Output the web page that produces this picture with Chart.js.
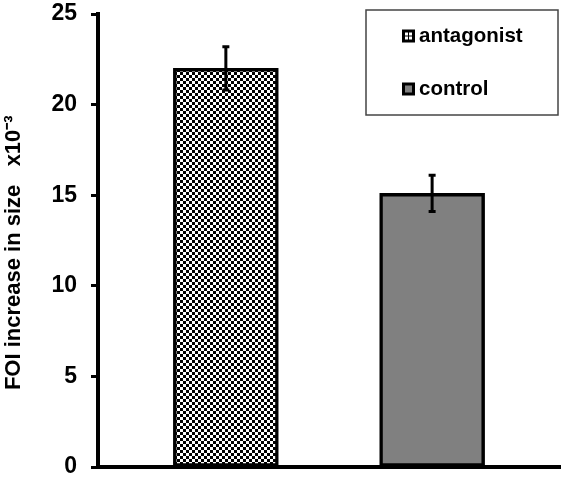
<!DOCTYPE html>
<html>
<head>
<meta charset="utf-8">
<script src="https://cdn.jsdelivr.net/npm/chart.js@4"></script>
<style>
    body { margin: 0; background: #fff; }
    #wrap { width: 566px; height: 482px; }
</style>
</head>
<body>
<div id="wrap"><canvas id="foiChart"></canvas></div>
<script>
const categories = ["antagonist", "control"];
const foiValues = [22.0, 15.1];
const foiErrors = [1.25, 1.05];
const yTicks = [0, 5, 10, 15, 20, 25];

const fontFamily = "'Liberation Sans', Arial, sans-serif";

// checkerboard fill for the antagonist bar
function makeChecker() {
    const c = document.createElement("canvas");
    c.width = 6;
    c.height = 6;
    const g = c.getContext("2d");
    g.fillStyle = "#fff";
    g.fillRect(0, 0, 6, 6);
    g.fillStyle = "#000";
    g.fillRect(0, 0, 3, 3);
    g.fillRect(3, 3, 3, 3);
    return g.createPattern(c, "repeat");
}

const checker = makeChecker();
const barColors = [checker, "#808080"];

const errorBars = {
    id: "errorBars",
    afterDatasetsDraw(chart) {
        const ctx = chart.ctx;
        const yScale = chart.scales.y;
        const meta = chart.getDatasetMeta(0);
        ctx.save();
        ctx.strokeStyle = "#000";
        ctx.lineWidth = 3;
        meta.data.forEach((bar, i) => {
            const top = yScale.getPixelForValue(foiValues[i] + foiErrors[i]);
            const bottom = yScale.getPixelForValue(foiValues[i] - foiErrors[i]);
            ctx.beginPath();
            ctx.moveTo(bar.x, top);
            ctx.lineTo(bar.x, bottom);
            ctx.moveTo(bar.x - 3.5, top + 1);
            ctx.lineTo(bar.x + 3.5, top + 1);
            ctx.moveTo(bar.x - 3.5, bottom - 1);
            ctx.lineTo(bar.x + 3.5, bottom - 1);
            ctx.stroke();
        });
        ctx.restore();
    }
};

const boxLegend = {
    id: "boxLegend",
    afterDraw(chart) {
        const ctx = chart.ctx;
        const area = chart.chartArea;
        const right = area.right - 2;
        const left = right - 192;
        const top = area.top - 4;
        ctx.save();
        ctx.strokeStyle = "#444";
        ctx.lineWidth = 1.5;
        ctx.strokeRect(left, top, right - left, 105);

        ctx.font = "bold 20.5px " + fontFamily;
        ctx.textBaseline = "middle";
        ctx.fillStyle = "#000";
        categories.forEach((name, i) => {
            const cy = top + 26 + i * 53;
            const ix = left + 36;
            ctx.fillStyle = "#000";
            ctx.fillRect(ix, cy - 6.5, 13, 13);
            if (i === 0) {
                ctx.fillStyle = "#fff";
                ctx.fillRect(ix + 3, cy - 3.5, 3, 3);
                ctx.fillRect(ix + 7, cy - 3.5, 3, 3);
                ctx.fillRect(ix + 3, cy + 0.5, 3, 3);
                ctx.fillRect(ix + 7, cy + 0.5, 3, 3);
            } else {
                ctx.fillStyle = "#808080";
                ctx.fillRect(ix + 3, cy - 3.5, 7, 7);
            }
            ctx.fillStyle = "#000";
            ctx.fillText(name, ix + 17, cy);
        });
        ctx.restore();
    }
};

new Chart(document.getElementById("foiChart"), {
    type: "bar",
    data: {
        labels: categories,
        datasets: [{
            label: "FOI increase",
            data: categories.map((c, i) => ({ x: i, y: foiValues[i] })),
            backgroundColor: barColors,
            borderColor: "#000",
            borderWidth: 3.5,
            borderSkipped: false,
            barThickness: 105
        }]
    },
    options: {
        responsive: true,
        maintainAspectRatio: false,
        animation: false,
        layout: {
            padding: { left: 1, right: 6, top: 14, bottom: 7 }
        },
        plugins: {
            legend: { display: false },
            tooltip: { enabled: false }
        },
        scales: {
            x: {
                type: "linear",
                offset: false,
                min: -0.62,
                max: 1.62,
                ticks: { display: false },
                grid: { display: false },
                border: { display: true, color: "#000", width: 4 }
            },
            y: {
                min: 0,
                max: 25,
                afterBuildTicks: (axis) => {
                    axis.ticks = yTicks.map(v => ({ value: v }));
                },
                afterFit: (axis) => {
                    axis.paddingTop = 0;
                    axis.paddingBottom = 0;
                },
                ticks: {
                    padding: 14,
                    color: "#000",
                    font: { family: fontFamily, size: 23, weight: "bold" }
                },
                grid: {
                    display: true,
                    drawOnChartArea: false,
                    drawTicks: true,
                    tickLength: 7,
                    tickWidth: 3,
                    tickColor: "#000"
                },
                border: { display: true, color: "#000", width: 4 },
                title: {
                    display: true,
                    text: "FOI increase in size   x10\u207B\u00B3    ",
                    color: "#000",
                    padding: { top: 0, bottom: 10 },
                    font: { family: fontFamily, size: 22, weight: "bold" }
                }
            }
        }
    },
    plugins: [errorBars, boxLegend]
});
</script>
</body>
</html>
